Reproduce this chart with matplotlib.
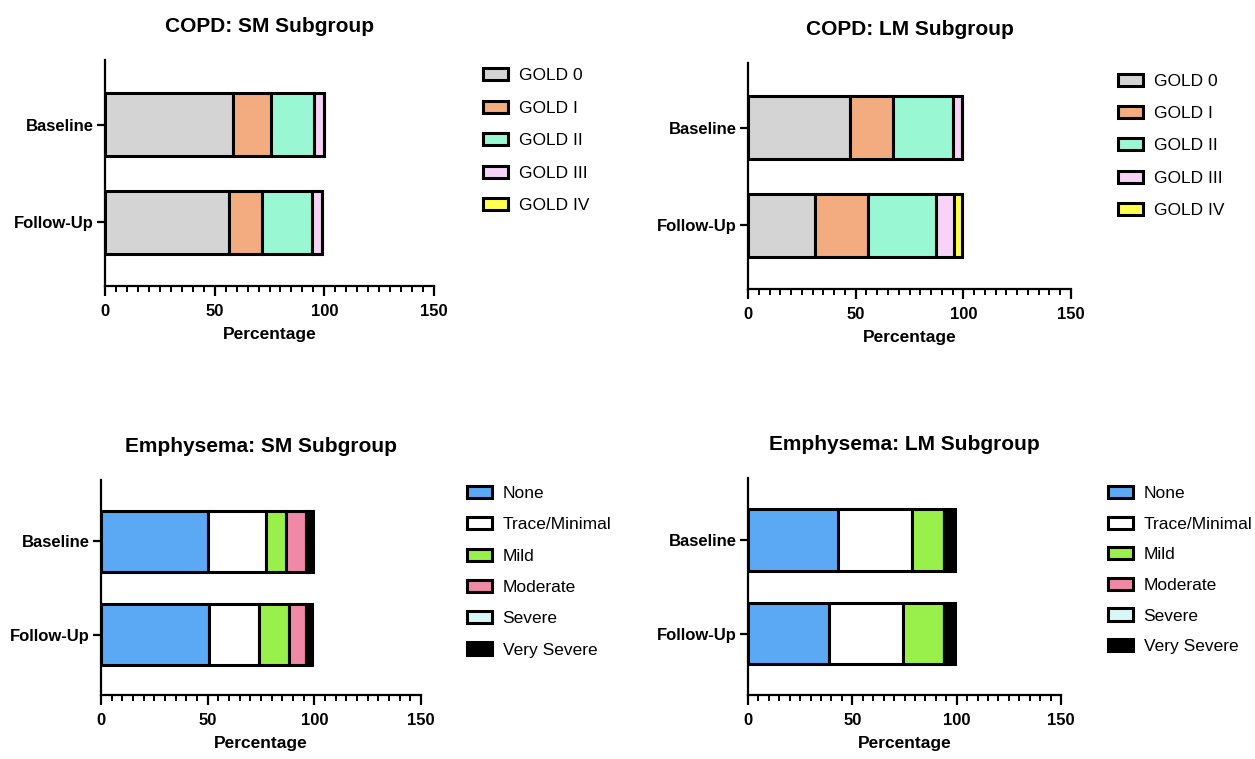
import matplotlib
matplotlib.use("Agg")
import matplotlib.pyplot as plt
from matplotlib.ticker import MultipleLocator

plt.rcParams["font.family"] = ["Liberation Sans", "DejaVu Sans"]

# Data (percentages)
timepoints = ["Baseline", "Follow-Up"]

gold_labels = ["GOLD 0", "GOLD I", "GOLD II", "GOLD III", "GOLD IV"]
gold_colors = ["#D4D4D4", "#F2AC80", "#99F7D4", "#F7D4F7", "#FFFF4D"]
copd_sm_baseline = [58.5, 17, 20, 4.5, 0]
copd_sm_followup = [56.5, 15, 23, 4.5, 0]
copd_lm_baseline = [47.5, 20, 27.5, 4.5, 0]
copd_lm_followup = [31, 24.5, 32, 8, 4]

emph_labels = ["None", "Trace/Minimal", "Mild", "Moderate", "Severe", "Very Severe"]
emph_colors = ["#5BA8F5", "#FFFFFF", "#99F04A", "#F088A8", "#D8F8F8", "#000000"]
emph_sm_baseline = [50, 27.5, 9, 9.5, 1, 2.5]
emph_sm_followup = [50.5, 23.5, 14, 8, 0, 3]
emph_lm_baseline = [43, 35.5, 15.5, 0, 0, 5]
emph_lm_followup = [39, 35.5, 19.5, 0, 0, 5]

W, H = 1255, 759
fig = plt.figure(figsize=(W / 100, H / 100), dpi=100)


def px_axes(x0, x1, y0, y1):
    return fig.add_axes([x0 / W, 1 - y1 / H, (x1 - x0) / W, (y1 - y0) / H])


def stacked(ax, title, labels, colors, baseline, followup):
    left = [0, 0]
    for i, lab in enumerate(labels):
        vals = [baseline[i], followup[i]]
        ax.barh([0, 1], vals, left=left, height=0.65, color=colors[i],
                edgecolor="black", linewidth=2.2, label=lab)
        left = [left[0] + vals[0], left[1] + vals[1]]
    ax.set_xlim(0, 150)
    ax.set_ylim(1.65, -0.66)
    ax.set_yticks([0, 1])
    ax.set_yticklabels(timepoints, fontweight="bold", fontsize=12)
    ax.xaxis.set_major_locator(MultipleLocator(50))
    ax.xaxis.set_minor_locator(MultipleLocator(5))
    for lbl in ax.get_xticklabels():
        lbl.set_fontweight("bold")
    ax.tick_params(axis="x", which="major", length=7, width=1.6, labelsize=12, pad=6)
    ax.tick_params(axis="x", which="minor", length=4, width=1.4)
    ax.tick_params(axis="y", length=6, width=1.6, pad=2)
    for s in ["top", "right"]:
        ax.spines[s].set_visible(False)
    for s in ["left", "bottom"]:
        ax.spines[s].set_linewidth(1.6)
    ax.set_xlabel("Percentage", fontweight="bold", fontsize=12.5, labelpad=6)
    ax.set_title(title, fontweight="bold", fontsize=15, pad=20)


ax1 = px_axes(105, 434, 60, 286)
stacked(ax1, "COPD: SM Subgroup", gold_labels, gold_colors, copd_sm_baseline, copd_sm_followup)
ax2 = px_axes(748, 1071, 63, 289)
stacked(ax2, "COPD: LM Subgroup", gold_labels, gold_colors, copd_lm_baseline, copd_lm_followup)
ax3 = px_axes(101, 421, 480, 695)
stacked(ax3, "Emphysema: SM Subgroup", emph_labels, emph_colors, emph_sm_baseline, emph_sm_followup)
ax4 = px_axes(748, 1061, 478, 695)
stacked(ax4, "Emphysema: LM Subgroup", emph_labels, emph_colors, emph_lm_baseline, emph_lm_followup)


def legend(ax, x, y, spacing):
    handles, labels = ax.get_legend_handles_labels()
    leg = fig.legend(handles, labels, loc="upper left", bbox_to_anchor=(x / W, 1 - y / H),
                     frameon=False, fontsize=12.5, borderpad=0, borderaxespad=0,
                     handlelength=1.45, handleheight=0.7, handletextpad=0.6,
                     labelspacing=spacing)
    for h in leg.legend_handles:
        h.set_linewidth(2.2)


legend(ax1, 483, 68, 1.0)
legend(ax2, 1118, 74, 0.98)
legend(ax3, 467, 486, 0.93)
legend(ax4, 1108, 486, 0.89)

fig.savefig("out.png", dpi=100)
